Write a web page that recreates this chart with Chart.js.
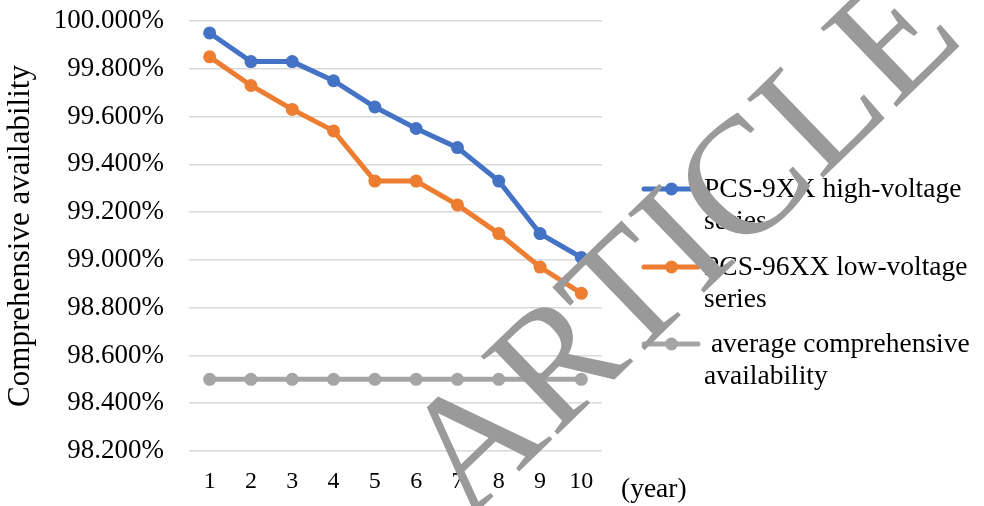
<!DOCTYPE html>
<html>
<head>
<meta charset="utf-8">
<script src="https://cdn.jsdelivr.net/npm/chart.js@4/dist/chart.umd.min.js"></script>
<style>
  html, body { margin: 0; padding: 0; background: #fff; }
  #wrap { position: relative; width: 984px; height: 506px; }
</style>
</head>
<body>
<div id="wrap"><canvas id="c" width="984" height="506"></canvas></div>
<script>
// Operating years
const years = ['1', '2', '3', '4', '5', '6', '7', '8', '9', '10'];

// Comprehensive availability (%) per year
const highVoltage = [99.95, 99.83, 99.83, 99.75, 99.64, 99.55, 99.47, 99.33, 99.11, 99.01];
const lowVoltage  = [99.85, 99.73, 99.63, 99.54, 99.33, 99.33, 99.23, 99.11, 98.97, 98.86];
const averageAvailability = [98.5, 98.5, 98.5, 98.5, 98.5, 98.5, 98.5, 98.5, 98.5, 98.5];

// Series names, already broken into legend lines
const seriesNames = [
  ['PCS-9XX high-voltage', 'series'],
  ['PCS-96XX low-voltage', 'series'],
  [' average comprehensive', 'availability']
];
const seriesColors = ['#4472C4', '#ED7D31', '#A5A5A5'];

// Value axis range
const yMin = 98.2, yMax = 100.0, yStep = 0.2;

const SERIF = '"Liberation Serif", "Times New Roman", serif';

// Legend on the right: a short line with a dot, then wrapped text
const sideLegend = {
  id: 'sideLegend',
  afterDraw(chart) {
    const ctx = chart.ctx;
    const rows = [189, 267, 344];
    ctx.save();
    chart.data.datasets.forEach((ds, i) => {
      const y = rows[i];
      ctx.strokeStyle = ds.borderColor;
      ctx.lineWidth = 5;
      ctx.lineCap = 'round';
      ctx.beginPath();
      ctx.moveTo(644, y);
      ctx.lineTo(698, y);
      ctx.stroke();
      ctx.fillStyle = ds.borderColor;
      ctx.beginPath();
      ctx.arc(671.5, y, 6.5, 0, Math.PI * 2);
      ctx.fill();
      ctx.fillStyle = '#000';
      ctx.font = '27.5px ' + SERIF;
      ctx.textAlign = 'left';
      ctx.textBaseline = 'middle';
      seriesNames[i].forEach((line, k) => {
        ctx.fillText(line, 704, y + 1 + k * 32);
      });
    });
    // unit of the category axis
    ctx.font = '27.5px ' + SERIF;
    ctx.textBaseline = 'alphabetic';
    ctx.fillText('(year)', 621, 497);
    ctx.restore();
  }
};

// Large diagonal stamp across the figure
const stamp = {
  id: 'stamp',
  afterDraw(chart) {
    const ctx = chart.ctx;
    const size = 167;
    ctx.save();
    ctx.translate(678, 241);
    ctx.rotate(-44 * Math.PI / 180);
    ctx.font = size + 'px ' + SERIF;
    ctx.fillStyle = '#9A9A9A';
    ctx.textAlign = 'center';
    ctx.textBaseline = 'alphabetic';
    ctx.fillText('ARTICLE', 0, size * 0.331);
    ctx.restore();
  }
};

const makeSet = (label, data, color) => ({
  label,
  data,
  borderColor: color,
  backgroundColor: color,
  pointBackgroundColor: color,
  pointBorderColor: color,
  borderWidth: 5,
  pointRadius: 6.5,
  pointBorderWidth: 0,
  tension: 0,
  fill: false
});

new Chart(document.getElementById('c'), {
  type: 'line',
  data: {
    labels: years,
    datasets: [
      makeSet(seriesNames[0].join(' '), highVoltage, seriesColors[0]),
      makeSet(seriesNames[1].join(' '), lowVoltage, seriesColors[1]),
      makeSet(seriesNames[2].join(' ').trim(), averageAvailability, seriesColors[2])
    ]
  },
  options: {
    responsive: false,
    animation: false,
    layout: { padding: { left: 0, right: 382, top: 0, bottom: 0 } },
    plugins: {
      legend: { display: false },
      tooltip: { enabled: false }
    },
    scales: {
      x: {
        offset: true,
        grid: { display: false, drawTicks: false },
        border: { display: false },
        ticks: {
          color: '#000',
          font: { family: SERIF, size: 24 },
          padding: 16,
          maxRotation: 0
        },
        afterFit(scale) { scale.height = 55; }
      },
      y: {
        min: yMin,
        max: yMax,
        grid: { color: '#D9D9D9', lineWidth: 1.5, drawTicks: false },
        border: { display: false },
        ticks: {
          stepSize: yStep,
          color: '#000',
          font: { family: SERIF, size: 27 },
          padding: 25,
          callback: v => v.toFixed(3) + '%'
        },
        title: {
          display: true,
          text: 'Comprehensive availability',
          color: '#000',
          font: { family: SERIF, size: 31 },
          padding: { top: 2, bottom: 0 }
        },
        afterFit(scale) {
          scale.width = 189;
          scale.paddingTop = 21;
          scale.paddingBottom = 0;
        }
      }
    }
  },
  plugins: [sideLegend, stamp]
});
</script>
</body>
</html>
